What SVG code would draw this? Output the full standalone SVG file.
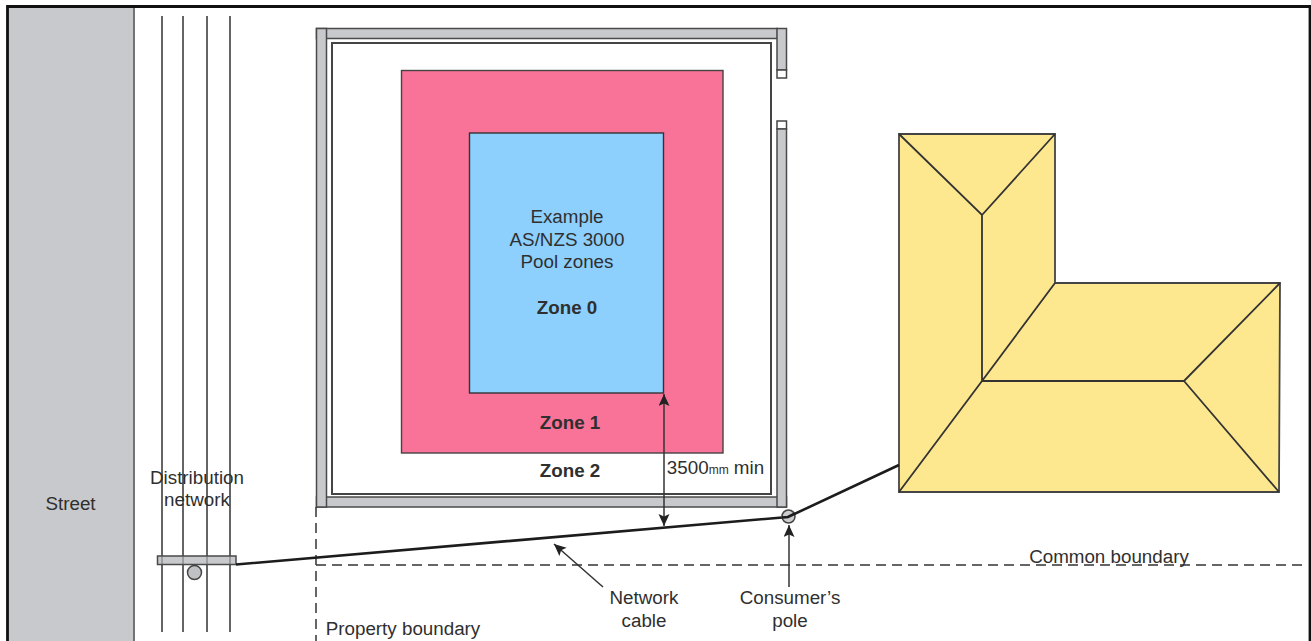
<svg xmlns="http://www.w3.org/2000/svg" width="1311" height="641" viewBox="0 0 1311 641">
<style>
text{font-family:"Liberation Sans",Arial,sans-serif;font-size:18.800px;fill:#2f2f2f;text-anchor:middle}
.b{font-weight:bold}
.fence{fill:#c8c9cc;stroke:#4a4a4a;stroke-width:1.500}
.w{fill:#fff;stroke:#444;stroke-width:1.500}
.pole{fill:#c0c1c4;stroke:#444;stroke-width:1.500}
.thin{fill:none;stroke:#555;stroke-width:1.800}
.dash{fill:none;stroke:#333;stroke-width:1.500;stroke-dasharray:10 6}
.cable{fill:none;stroke:#1c1c1c;stroke-width:2.600}
.lead{fill:none;stroke:#333;stroke-width:1.500}
.roof{fill:none;stroke:#333;stroke-width:1.800}
</style>
<defs>
<marker id="a" markerUnits="userSpaceOnUse" markerWidth="13" markerHeight="13" refX="12" refY="5.500" orient="auto-start-reverse"><path d="M0 0L12 5.500L0 11L2.500 5.500Z" fill="#222"/></marker>
</defs>
<rect width="1311" height="641" fill="#fff"/>
<g id="street"><rect x="8" y="7" width="126" height="634" fill="#c8c9cc"/><path d="M134 7V641" stroke="#666" stroke-width="1.800"/><text x="70.500" y="510">Street</text></g>
<path d="M7.500 641V6.500H1310V641" fill="none" stroke="#111" stroke-width="2.800"/>
<g id="distribution-network">
<path class="thin" d="M162 16V632M183 16V632M207 16V632M230 16V632"/>
<rect x="157.500" y="556" width="78.500" height="8.500" class="fence"/>
<path d="M162 556V564M183 556V564M207 556V564M230 556V564" stroke="#555" stroke-width="1.500" stroke-opacity=".5"/>
<circle cx="194.500" cy="572.500" r="7" class="pole"/>
<text x="197" y="484">Distribution</text><text x="197" y="506">network</text>
</g>
<g id="pool-fence">
<rect x="332" y="43" width="439" height="451" fill="#fff" stroke="#444" stroke-width="2"/>
<rect x="316.500" y="28.500" width="461" height="10" class="fence"/>
<rect x="316.500" y="497" width="470" height="10" class="fence"/>
<rect x="316.500" y="28.500" width="10" height="478.500" class="fence"/>
<rect x="777" y="28.500" width="9.500" height="41.500" class="fence"/>
<rect x="777" y="70" width="9.500" height="8" class="w"/>
<rect x="777" y="121" width="9.500" height="8" class="w"/>
<rect x="777" y="129" width="9.500" height="378" class="fence"/>
</g>
<g id="zone-1"><rect x="401.500" y="70.500" width="321.500" height="382.500" fill="#f97298" stroke="#444" stroke-width="1.400"/><text class="b" x="570" y="429">Zone 1</text></g>
<g id="zone-0"><rect x="469.500" y="133" width="194" height="260" fill="#8dcffd" stroke="#333" stroke-width="1.400"/>
<text x="567" y="223">Example</text><text x="567" y="246">AS/NZS 3000</text><text x="567" y="268">Pool zones</text><text class="b" x="567" y="314">Zone 0</text></g>
<g id="zone-2"><text class="b" x="570" y="477">Zone 2</text></g>
<g id="house">
<path d="M899 134H1055V283H1280L1279 492H899Z" fill="#fde88f" stroke="#444" stroke-width="1.800"/>
<path class="roof" d="M899 134L982 215L1055 134M982 215V381M982 381L1055 283M982 381H1184L1280 283M1184 381L1279 492M982 381L899 492"/>
</g>
<g id="connectors">
<path class="dash" d="M316 507V641"/>
<path class="dash" d="M316 565H1305"/>
<path class="cable" d="M236 564.500L788 517L899 465"/>
<path class="lead" d="M664 394V526" marker-start="url(#a)" marker-end="url(#a)"/>
<path class="lead" d="M603 587L554 544" marker-end="url(#a)"/>
<path class="lead" d="M789 587V525" marker-end="url(#a)"/>
</g>
<g id="consumers-pole"><circle cx="788.500" cy="516.500" r="6.500" class="pole" fill-opacity=".8"/><path class="cable" d="M782 517.500L788 517L795 513.500"/>
<text x="790" y="604">Consumer’s</text><text x="790" y="627">pole</text></g>
<g id="labels">
<text x="644" y="604">Network</text><text x="644" y="627">cable</text>
<text x="403" y="635">Property boundary</text>
<text x="1109" y="563">Common boundary</text>
<text x="715.500" y="474">3500<tspan font-size="12">mm</tspan> min</text>
</g>
</svg>
